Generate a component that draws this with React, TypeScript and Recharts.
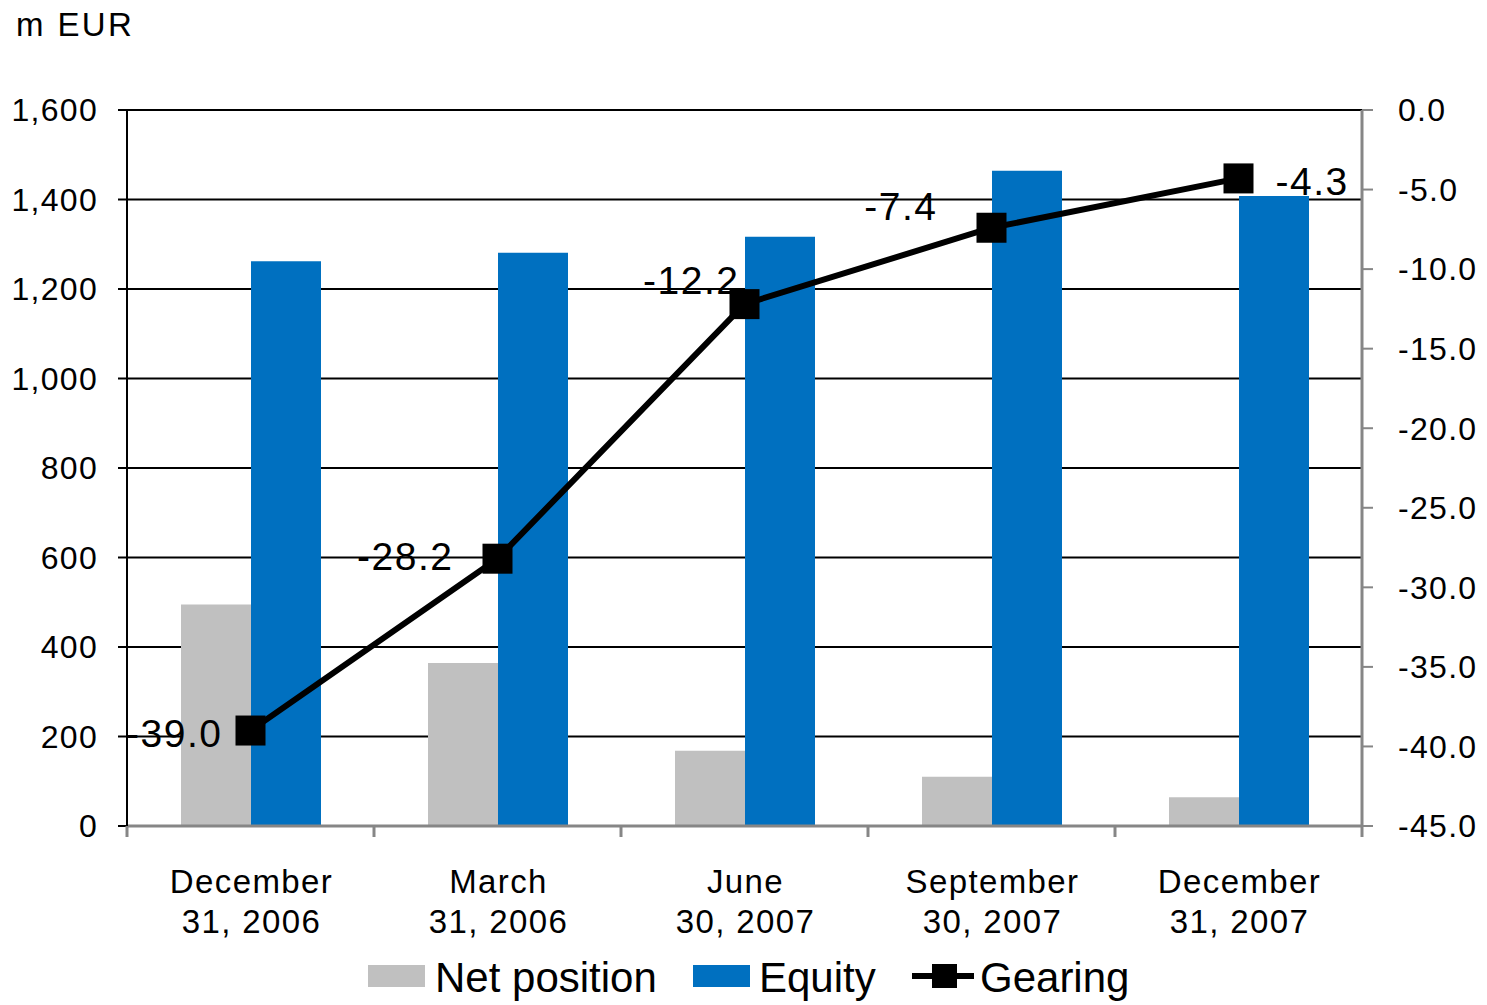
import React from 'react';
import {
  ComposedChart,
  Bar,
  Line,
  XAxis,
  YAxis,
  CartesianGrid,
} from 'recharts';

// quarter-end dates, two lines each
const dateLines: [string, string][] = [
  ['December', '31, 2006'],
  ['March', '31, 2006'],
  ['June', '30, 2007'],
  ['September', '30, 2007'],
  ['December', '31, 2007'],
];

const netPosition = [495, 364, 168, 110, 64];
const equity = [1262, 1281, 1317, 1464, 1408];
const gearing = [-39.0, -28.2, -12.2, -7.4, -4.3];

const leftTicks = [0, 200, 400, 600, 800, 1000, 1200, 1400, 1600];
const rightTicks = [0, -5, -10, -15, -20, -25, -30, -35, -40, -45];

const data = dateLines.map((d, i) => ({
  key: d.join(' '),
  net: netPosition[i],
  equity: equity[i],
  gearing: gearing[i],
}));

const W = 1487;
const H = 1005;
const PLOT_LEFT = 127;
const PLOT_RIGHT = 1362;
const BAND = (PLOT_RIGHT - PLOT_LEFT) / dateLines.length;

const FONT = '"Liberation Sans", Arial, sans-serif';
const GREY = '#C0C0C0';
const BLUE = '#0070C0';
const AXIS_GREY = '#868686';

// where each gearing value label sits relative to its marker
const labelPlacement = [
  { dx: -28, dy: 16, anchor: 'end' },
  { dx: -44, dy: 11, anchor: 'end' },
  { dx: -5, dy: -10, anchor: 'end' },
  { dx: -54, dy: -8, anchor: 'end' },
  { dx: 37, dy: 17, anchor: 'start' },
];

const DateTick = (props: any) => {
  const { x, y, index } = props;
  const lines = dateLines[index] || ['', ''];
  const isLast = index === dateLines.length - 1;
  const textProps = {
    textAnchor: 'middle' as const,
    fontSize: 33,
    fontFamily: FONT,
    fill: '#000',
    letterSpacing: 1.4,
  };
  return (
    <g>
      <line x1={x - BAND / 2} x2={x - BAND / 2} y1={y} y2={y + 11} stroke={AXIS_GREY} strokeWidth={3} />
      {isLast && (
        <line x1={x + BAND / 2} x2={x + BAND / 2} y1={y} y2={y + 11} stroke={AXIS_GREY} strokeWidth={3} />
      )}
      <text x={x + 1} y={y + 67} {...textProps}>
        {lines[0]}
      </text>
      <text x={x + 1} y={y + 107} {...textProps}>
        {lines[1]}
      </text>
    </g>
  );
};

const SquareDot = (props: any) => {
  const { cx, cy } = props;
  if (cx == null || cy == null) return null;
  return <rect x={cx - 15} y={cy - 15} width={30} height={30} fill="#000" />;
};

const GearingLabel = (props: any) => {
  const { x, y, value, index } = props;
  const p = labelPlacement[index];
  return (
    <text
      x={x + p.dx}
      y={y + p.dy}
      textAnchor={p.anchor}
      fontSize={39}
      fontFamily={FONT}
      letterSpacing={1.5}
      fill="#000"
    >
      {Number(value).toFixed(1)}
    </text>
  );
};

const tickFont = { fontSize: 32, fontFamily: FONT, fill: '#000', letterSpacing: 1.3 };

const legendText: React.CSSProperties = {
  position: 'absolute',
  top: 0,
  fontSize: 42,
  fontFamily: FONT,
  lineHeight: '44px',
};

const App = () => {
  return (
    <div style={{ position: 'absolute', left: 0, top: 0, width: W, height: H, background: '#fff' }}>
      <div
        style={{
          position: 'absolute',
          left: 16,
          top: 6,
          fontSize: 33,
          letterSpacing: 2.4,
          lineHeight: '38px',
          fontFamily: FONT,
        }}
      >
        m EUR
      </div>

      <ComposedChart
        width={W}
        height={H}
        data={data}
        margin={{ top: 110, right: 25, bottom: 79, left: 27 }}
        barGap={0}
        barSize={70}
      >
        <CartesianGrid yAxisId="left" vertical={false} stroke="#000" strokeWidth={2} />
        <XAxis
          dataKey="key"
          height={100}
          interval={0}
          tickLine={false}
          tickSize={0}
          tickMargin={0}
          axisLine={{ stroke: AXIS_GREY, strokeWidth: 3 }}
          tick={<DateTick />}
        />
        <YAxis
          yAxisId="left"
          width={100}
          domain={[0, 1600]}
          ticks={leftTicks}
          interval={0}
          tickFormatter={(v: number) => v.toLocaleString('en-US')}
          axisLine={{ stroke: '#000', strokeWidth: 2 }}
          tickLine={{ stroke: '#000', strokeWidth: 2 }}
          tickSize={9}
          tickMargin={20}
          tick={tickFont}
        />
        <YAxis
          yAxisId="right"
          orientation="right"
          width={100}
          domain={[-45, 0]}
          ticks={rightTicks}
          interval={0}
          tickFormatter={(v: number) => v.toFixed(1)}
          axisLine={{ stroke: AXIS_GREY, strokeWidth: 3 }}
          tickLine={{ stroke: AXIS_GREY, strokeWidth: 2 }}
          tickSize={11}
          tickMargin={25}
          tick={tickFont}
        />
        <Bar yAxisId="left" dataKey="net" name="Net position" fill={GREY} isAnimationActive={false} />
        <Bar yAxisId="left" dataKey="equity" name="Equity" fill={BLUE} isAnimationActive={false} />
        <Line
          yAxisId="right"
          dataKey="gearing"
          name="Gearing"
          stroke="#000"
          strokeWidth={6}
          dot={<SquareDot />}
          activeDot={false}
          label={(p: any) => <GearingLabel key={`gl-${p.index}`} {...p} />}
          isAnimationActive={false}
        />
      </ComposedChart>

      {/* legend row under the axis labels */}
      <div style={{ position: 'absolute', left: 0, top: 956, width: W, height: 46 }}>
        <div style={{ position: 'absolute', left: 368, top: 9, width: 57, height: 22, background: GREY }} />
        <span style={{ ...legendText, left: 435 }}>Net position</span>
        <div style={{ position: 'absolute', left: 693, top: 9, width: 57, height: 22, background: BLUE }} />
        <span style={{ ...legendText, left: 759 }}>Equity</span>
        <svg width={62} height={30} style={{ position: 'absolute', left: 912, top: 5 }}>
          <line x1={0} x2={62} y1={15} y2={15} stroke="#000" strokeWidth={6} />
          <rect x={20} y={3} width={25} height={24} fill="#000" />
        </svg>
        <span style={{ ...legendText, left: 980 }}>Gearing</span>
      </div>
    </div>
  );
};

export default App;
